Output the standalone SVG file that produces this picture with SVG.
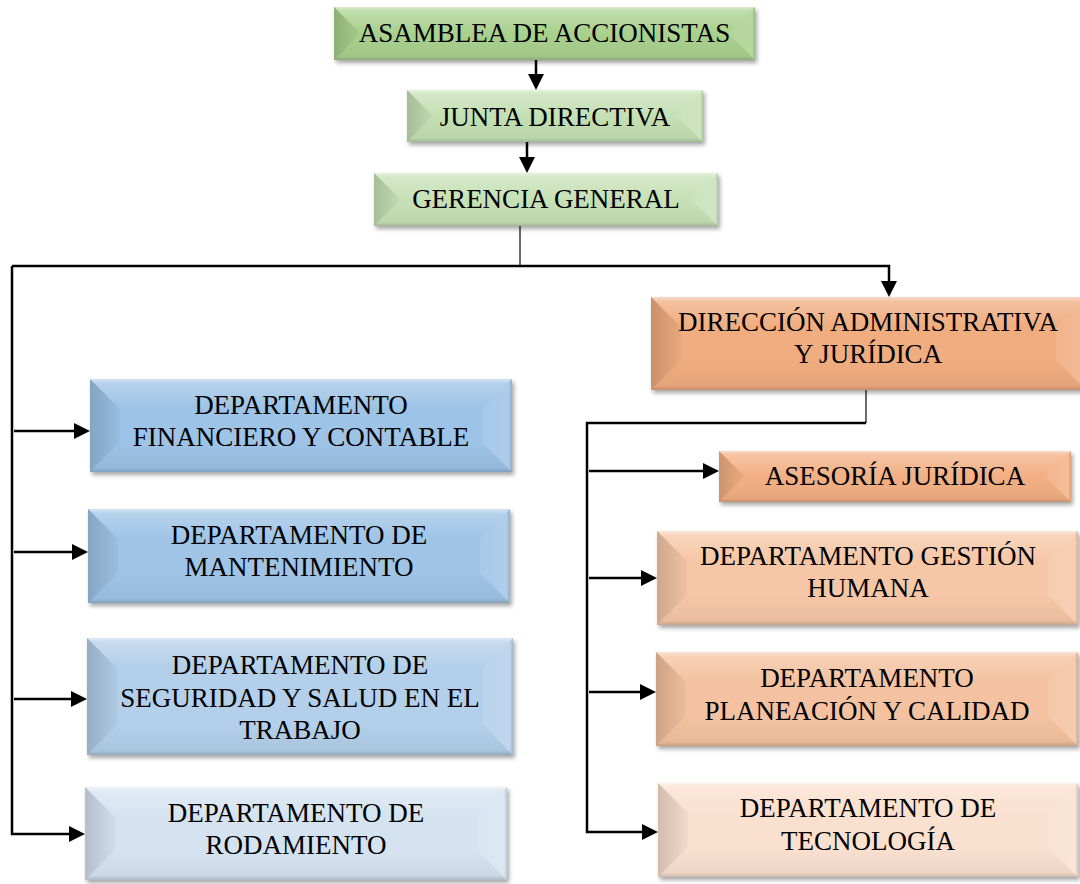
<svg xmlns="http://www.w3.org/2000/svg" width="1080" height="884" viewBox="0 0 1080 884">
<style>
.lbl{font-family:"Liberation Serif","Times New Roman",serif;font-size:27px;fill:#000;text-anchor:middle}
.body{filter:url(#sh)}
.t{fill:url(#gT)}
.b{fill:url(#gB)}
.l{fill:url(#gL)}
.r{fill:url(#gR)}
.edge{fill:none;stroke:#000;stroke-width:2.5;stroke-linejoin:miter}
.thin{fill:none;stroke:#444;stroke-width:1.6}
.arr{marker-end:url(#ah)}
</style>
<defs>
<filter id="sh" x="-5%" y="-10%" width="112%" height="130%">
<feDropShadow dx="2" dy="3" stdDeviation="2" flood-color="#000" flood-opacity="0.35"/>
</filter>
<linearGradient id="gT" x1="0" y1="0" x2="0" y2="1">
<stop offset="0" stop-color="#fff" stop-opacity="0.55"/>
<stop offset="0.15" stop-color="#fff" stop-opacity="0.25"/>
<stop offset="1" stop-color="#fff" stop-opacity="0"/>
</linearGradient>
<linearGradient id="gB" x1="0" y1="0" x2="0" y2="1">
<stop offset="0" stop-color="#000" stop-opacity="0"/>
<stop offset="0.85" stop-color="#000" stop-opacity="0.05"/>
<stop offset="1" stop-color="#000" stop-opacity="0.18"/>
</linearGradient>
<linearGradient id="gL" x1="0" y1="0" x2="1" y2="0">
<stop offset="0" stop-color="#000" stop-opacity="0.16"/>
<stop offset="1" stop-color="#000" stop-opacity="0.03"/>
</linearGradient>
<linearGradient id="gR" x1="0" y1="0" x2="1" y2="0">
<stop offset="0" stop-color="#fff" stop-opacity="0.1"/>
<stop offset="0.9" stop-color="#fff" stop-opacity="0.16"/>
<stop offset="1" stop-color="#000" stop-opacity="0.08"/>
</linearGradient>
<marker id="ah" markerUnits="userSpaceOnUse" markerWidth="17" markerHeight="16" refX="12" refY="8" orient="auto">
<path d="M0,0 L16,8 L0,16 Z" fill="#000"/>
</marker>
</defs>

<g id="connectors">
<path class="edge arr" d="M536,60 V86"/>
<path class="edge arr" d="M527,142 V169"/>
<path class="thin" d="M520,226 V266"/>
<path class="edge arr" d="M12,266 H889 V293"/>
<path class="edge arr" d="M12,266 V834 H81"/>
<path class="edge arr" d="M14,431 H86"/>
<path class="edge arr" d="M14,552 H84"/>
<path class="edge arr" d="M14,699 H83"/>
<path class="thin" d="M866,390 V423"/>
<path class="edge arr" d="M866,423 H587 V832 H654"/>
<path class="edge arr" d="M589,471 H715"/>
<path class="edge arr" d="M589,578 H653"/>
<path class="edge arr" d="M589,692 H652"/>
</g>

<g id="asamblea">
<rect class="body" x="334" y="7" width="421" height="53" fill="#a9d18e"/>
<polygon class="t" points="334,7 755,7 729,33 360,33"/>
<polygon class="b" points="334,60 755,60 729,34 360,34"/>
<polygon class="l" points="334,7 360,33 360,34 334,60"/>
<polygon class="r" points="755,7 729,33 729,34 755,60"/>
<text class="lbl" x="544.5" y="42">ASAMBLEA DE ACCIONISTAS</text>
</g>

<g id="junta">
<rect class="body" x="407" y="90" width="296" height="52" fill="#c5e0b4"/>
<polygon class="t" points="407,90 703,90 677,116 433,116"/>
<polygon class="b" points="407,142 703,142 677,116 433,116"/>
<polygon class="l" points="407,90 433,116 407,142"/>
<polygon class="r" points="703,90 677,116 703,142"/>
<text class="lbl" x="555" y="126">JUNTA DIRECTIVA</text>
</g>

<g id="gerencia">
<rect class="body" x="374" y="173" width="344" height="53" fill="#c7e1b7"/>
<polygon class="t" points="374,173 718,173 692,199 400,199"/>
<polygon class="b" points="374,226 718,226 692,200 400,200"/>
<polygon class="l" points="374,173 400,199 400,200 374,226"/>
<polygon class="r" points="718,173 692,199 692,200 718,226"/>
<text class="lbl" x="546" y="208">GERENCIA GENERAL</text>
</g>

<g id="direccion">
<rect class="body" x="651" y="297" width="435" height="93" fill="#f0ad80"/>
<polygon class="t" points="651,297 1086,297 1056,327 681,327"/>
<polygon class="b" points="651,390 1086,390 1056,360 681,360"/>
<polygon class="l" points="651,297 681,327 681,360 651,390"/>
<polygon class="r" points="1086,297 1056,327 1056,360 1086,390"/>
<text class="lbl" x="868" y="331">DIRECCIÓN ADMINISTRATIVA</text>
<text class="lbl" x="868" y="363">Y JURÍDICA</text>
</g>

<g id="asesoria">
<rect class="body" x="719" y="451" width="352" height="51" fill="#f3b084"/>
<polygon class="t" points="719,451 1071,451 1046,476 744,476"/>
<polygon class="b" points="719,502 1071,502 1046,477 744,477"/>
<polygon class="l" points="719,451 744,476 744,477 719,502"/>
<polygon class="r" points="1071,451 1046,476 1046,477 1071,502"/>
<text class="lbl" x="895" y="485">ASESORÍA JURÍDICA</text>
</g>

<g id="gestion">
<rect class="body" x="657" y="531" width="421" height="94" fill="#f6c7a7"/>
<polygon class="t" points="657,531 1078,531 1048,561 687,561"/>
<polygon class="b" points="657,625 1078,625 1048,595 687,595"/>
<polygon class="l" points="657,531 687,561 687,595 657,625"/>
<polygon class="r" points="1078,531 1048,561 1048,595 1078,625"/>
<text class="lbl" x="868" y="565">DEPARTAMENTO GESTIÓN</text>
<text class="lbl" x="868" y="597">HUMANA</text>
</g>

<g id="planeacion">
<rect class="body" x="656" y="652" width="422" height="94" fill="#f4c2a0"/>
<polygon class="t" points="656,652 1078,652 1048,682 686,682"/>
<polygon class="b" points="656,746 1078,746 1048,716 686,716"/>
<polygon class="l" points="656,652 686,682 686,716 656,746"/>
<polygon class="r" points="1078,652 1048,682 1048,716 1078,746"/>
<text class="lbl" x="867" y="687">DEPARTAMENTO</text>
<text class="lbl" x="867" y="720">PLANEACIÓN Y CALIDAD</text>
</g>

<g id="tecnologia">
<rect class="body" x="658" y="783" width="420" height="94" fill="#fae0cf"/>
<polygon class="t" points="658,783 1078,783 1048,813 688,813"/>
<polygon class="b" points="658,877 1078,877 1048,847 688,847"/>
<polygon class="l" points="658,783 688,813 688,847 658,877"/>
<polygon class="r" points="1078,783 1048,813 1048,847 1078,877"/>
<text class="lbl" x="868" y="817">DEPARTAMENTO DE</text>
<text class="lbl" x="868" y="850">TECNOLOGÍA</text>
</g>

<g id="financiero">
<rect class="body" x="90" y="379" width="422" height="93" fill="#9dc3e6"/>
<polygon class="t" points="90,379 512,379 482,409 120,409"/>
<polygon class="b" points="90,472 512,472 482,442 120,442"/>
<polygon class="l" points="90,379 120,409 120,442 90,472"/>
<polygon class="r" points="512,379 482,409 482,442 512,472"/>
<text class="lbl" x="301" y="414">DEPARTAMENTO</text>
<text class="lbl" x="301" y="446">FINANCIERO Y CONTABLE</text>
</g>

<g id="mantenimiento">
<rect class="body" x="88" y="509" width="422" height="94" fill="#9fc4e6"/>
<polygon class="t" points="88,509 510,509 480,539 118,539"/>
<polygon class="b" points="88,603 510,603 480,573 118,573"/>
<polygon class="l" points="88,509 118,539 118,573 88,603"/>
<polygon class="r" points="510,509 480,539 480,573 510,603"/>
<text class="lbl" x="299" y="544">DEPARTAMENTO DE</text>
<text class="lbl" x="299" y="576">MANTENIMIENTO</text>
</g>

<g id="seguridad">
<rect class="body" x="87" y="638" width="426" height="117" fill="#b3cfe9"/>
<polygon class="t" points="87,638 513,638 483,668 117,668"/>
<polygon class="b" points="87,755 513,755 483,725 117,725"/>
<polygon class="l" points="87,638 117,668 117,725 87,755"/>
<polygon class="r" points="513,638 483,668 483,725 513,755"/>
<text class="lbl" x="300" y="674">DEPARTAMENTO DE</text>
<text class="lbl" x="300" y="707">SEGURIDAD Y SALUD EN EL</text>
<text class="lbl" x="300" y="739">TRABAJO</text>
</g>

<g id="rodamiento">
<rect class="body" x="85" y="787" width="422" height="93" fill="#d5e3f1"/>
<polygon class="t" points="85,787 507,787 477,817 115,817"/>
<polygon class="b" points="85,880 507,880 477,850 115,850"/>
<polygon class="l" points="85,787 115,817 115,850 85,880"/>
<polygon class="r" points="507,787 477,817 477,850 507,880"/>
<text class="lbl" x="296" y="822">DEPARTAMENTO DE</text>
<text class="lbl" x="296" y="854">RODAMIENTO</text>
</g>
</svg>
